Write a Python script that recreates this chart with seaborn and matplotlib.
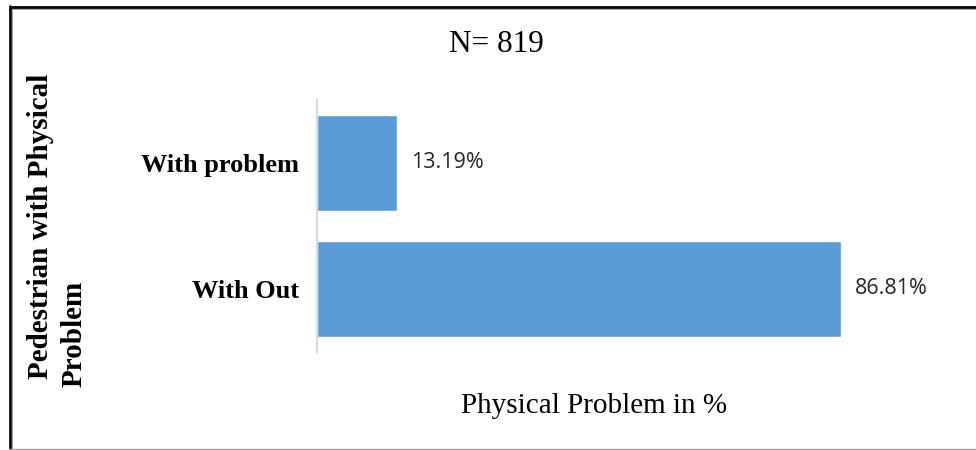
import matplotlib
matplotlib.use("Agg")
import matplotlib.pyplot as plt
import seaborn as sns
import pandas as pd
from matplotlib.lines import Line2D

# Survey data: share of pedestrians with / without a physical problem
categories = ["With problem", "With Out"]
percentages = [13.19, 86.81]
sample_label = "N= 819"
x_title = "Physical Problem in %"
y_title_lines = ["Pedestrian with Physical", "Problem"]

df = pd.DataFrame({"category": categories, "percent": percentages})

sns.set_theme(style="white")
SERIF = ["Liberation Serif", "DejaVu Serif"]
BAR_COLOR = "#5B9BD5"

W, H = 976, 450
fig = plt.figure(figsize=(W / 100, H / 100), dpi=100)
fig.patch.set_facecolor("white")

# Plot area in pixel terms
ax = fig.add_axes([317 / W, 1 - 352 / H, 604 / W, 252 / H])
sns.barplot(data=df, x="percent", y="category", color=BAR_COLOR,
            saturation=1, width=0.76, ax=ax)

ax.set_xlim(0, 100)
ax.set_xticks([])
ax.set_xlabel("")
ax.set_ylabel("")
for side in ("top", "right", "bottom"):
    ax.spines[side].set_visible(False)
ax.spines["left"].set_color("#D9D9D9")
ax.spines["left"].set_linewidth(1.6)
ax.tick_params(axis="y", length=0, pad=13)
for lbl in ax.get_yticklabels():
    lbl.set_fontfamily(SERIF)
    lbl.set_fontweight("bold")
    lbl.set_fontsize(19)
    lbl.set_color("black")

# Value labels at the end of each bar
for container in ax.containers:
    ax.bar_label(container, fmt="%.2f%%", padding=10,
                 fontfamily=["Open Sans", "DejaVu Sans"], fontsize=15.5,
                 color="#262626")

# Title and axis captions
fig.text(496 / W, 1 - 44 / H, sample_label, ha="center", va="center",
         fontfamily=SERIF, fontsize=22.5, color="black")
fig.text(594.5 / W, 1 - 406 / H, x_title, ha="center", va="center",
         fontfamily=SERIF, fontsize=21, color="black")
fig.text(41 / W, 1 - 226 / H, y_title_lines[0], rotation=90, ha="center",
         va="center", fontfamily=SERIF, fontweight="bold", fontsize=21,
         color="black")
fig.text(74 / W, 1 - 334 / H, y_title_lines[1], rotation=90, ha="center",
         va="center", fontfamily=SERIF, fontweight="bold", fontsize=21,
         color="black")

# Frame around the chart
tf = fig.transFigure
fig.add_artist(Line2D([9.5 / W, 1], [1 - 6.5 / H] * 2, transform=tf,
                      color="black", lw=2.0))
fig.add_artist(Line2D([11 / W, 1], [1 - 9 / H] * 2, transform=tf,
                      color="#A6A6A6", lw=0.7))
fig.add_artist(Line2D([9.5 / W] * 2, [0, 1 - 5.5 / H], transform=tf,
                      color="black", lw=1.9))
fig.add_artist(Line2D([11.5 / W] * 2, [0, 1 - 9 / H], transform=tf,
                      color="#A6A6A6", lw=0.7))
fig.add_artist(Line2D([9 / W, 1], [1 - 448.5 / H] * 2, transform=tf,
                      color="#A6A6A6", lw=1.0))

fig.savefig("out.png", dpi=100, facecolor="white")
